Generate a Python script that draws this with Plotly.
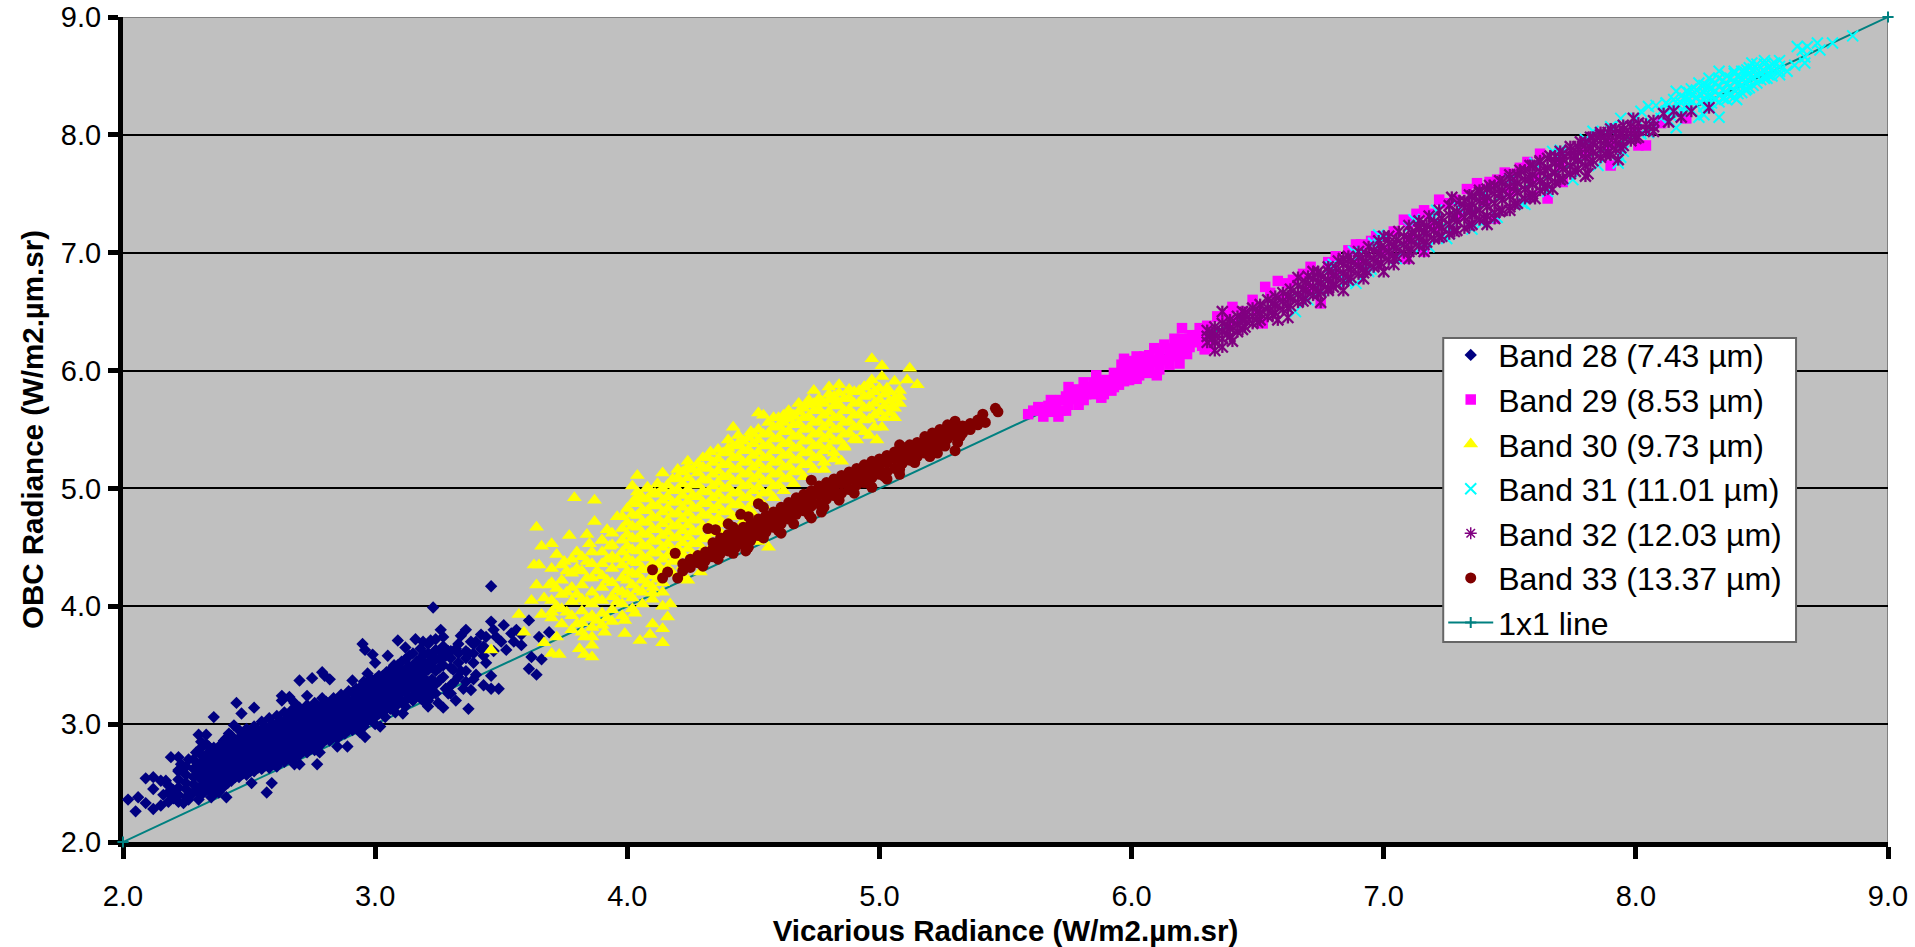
import plotly.graph_objects as go

AXIS_TICKS = [2, 3, 4, 5, 6, 7, 8, 9]
X_TITLE = "Vicarious Radiance (W/m2.µm.sr)"
Y_TITLE = "OBC Radiance (W/m2.µm.sr)"
BAND_NAMES = ["Band 28 (7.43 µm)", "Band 29 (8.53 µm)", "Band 30 (9.73 µm)",
              "Band 31 (11.01 µm)", "Band 32 (12.03 µm)", "Band 33 (13.37 µm)"]
LINE_NAME = "1x1 line"
line_x = [2.0, 9.0]
line_y = [2.0, 9.0]

band28 = [
 (2.02,2.36),(2.06,2.38),(2.05,2.26),(2.09,2.54),(2.09,2.33),(2.12,2.55),(2.12,2.28),(2.12,2.45),(2.15,2.31),(2.15,2.52),
 (2.17,2.52),(2.19,2.72),(2.22,2.72),(2.18,2.34),(2.20,2.37),(2.22,2.61),(2.30,2.91),(2.33,2.91),(2.36,3.06),(2.31,2.85),
 (2.34,2.81),(2.45,3.18),(2.52,3.14),(2.47,3.09),(2.44,2.99),(2.42,2.92),(2.41,2.88),(2.41,2.38),(2.57,2.42),(2.51,2.50),
 (2.59,2.50),(2.77,2.66),(2.70,3.37),(2.75,3.39),(2.79,3.44),(2.82,3.38),(2.80,3.41),(2.63,3.24),(2.63,3.20),(2.66,3.23),
 (2.68,3.18),(2.73,3.24),(2.91,3.37),(2.95,3.68),(2.96,3.63),(2.99,3.59),(3.00,3.52),(3.05,3.58),(3.09,3.71),(3.12,3.65),
 (3.16,3.72),(3.19,3.70),(3.22,3.71),(3.23,3.99),(3.26,3.80),(3.46,4.17),(3.36,3.80),(3.34,3.75),(3.40,3.70),(3.33,3.68),
 (3.44,3.74),(3.46,3.87),(3.47,3.80),(3.51,3.84),(3.54,3.77),(3.52,3.63),(3.56,3.80),(3.58,3.67),(3.61,3.88),(3.62,3.57),
 (3.66,3.55),(3.61,3.47),(3.64,3.42),(3.69,3.78),(3.65,3.74),(3.46,3.41),(3.43,3.33),(3.46,3.30),(3.49,3.30),(3.38,3.29),
 (3.37,3.13),(3.32,3.20),(3.27,3.14),(3.29,3.26),(3.21,3.15),(3.19,3.20),(3.11,3.09),(3.05,3.15),(3.02,2.98),(2.96,2.89),
 (2.89,2.81),(2.85,2.81),(2.78,2.76),(2.70,2.66),(2.68,2.66),(2.61,2.64),
 (2.18,2.42),(2.18,2.48),
 (2.22,2.40),(2.22,2.46),(2.22,2.53),(2.22,2.60),
 (2.25,2.38),(2.25,2.45),(2.25,2.50),(2.25,2.57),(2.25,2.64),
 (2.28,2.42),(2.28,2.49),(2.28,2.55),(2.28,2.62),(2.28,2.70),
 (2.31,2.40),(2.31,2.47),(2.31,2.53),(2.31,2.60),(2.31,2.67),(2.31,2.74),(2.31,2.80),
 (2.34,2.44),(2.34,2.51),(2.34,2.57),(2.34,2.63),(2.34,2.70),(2.34,2.76),
 (2.37,2.43),(2.37,2.50),(2.37,2.56),(2.37,2.62),(2.37,2.69),(2.37,2.75),
 (2.40,2.47),(2.40,2.53),(2.40,2.60),(2.40,2.66),(2.40,2.72),(2.40,2.79),(2.40,2.86),
 (2.43,2.52),(2.43,2.58),(2.43,2.64),(2.43,2.70),(2.43,2.77),(2.43,2.83),(2.43,2.90),
 (2.46,2.55),(2.46,2.62),(2.46,2.68),(2.46,2.75),(2.46,2.81),(2.46,2.88),(2.46,2.95),
 (2.49,2.57),(2.49,2.63),(2.49,2.70),(2.49,2.76),(2.49,2.83),(2.49,2.89),(2.49,2.96),
 (2.52,2.60),(2.52,2.66),(2.52,2.73),(2.52,2.79),(2.52,2.85),(2.52,2.92),(2.52,2.98),
 (2.55,2.62),(2.55,2.69),(2.55,2.75),(2.55,2.82),(2.55,2.88),(2.55,2.94),(2.55,3.02),
 (2.58,2.63),(2.58,2.70),(2.58,2.77),(2.58,2.83),(2.58,2.90),(2.58,2.96),(2.58,3.05),
 (2.61,2.66),(2.61,2.72),(2.61,2.79),(2.61,2.85),(2.61,2.92),(2.61,2.99),(2.61,3.07),
 (2.64,2.68),(2.64,2.75),(2.64,2.81),(2.64,2.88),(2.64,2.94),(2.64,3.00),(2.64,3.10),
 (2.67,2.70),(2.67,2.77),(2.67,2.83),(2.67,2.90),(2.67,2.96),(2.67,3.03),(2.67,3.12),
 (2.70,2.74),(2.70,2.80),(2.70,2.86),(2.70,2.93),(2.70,2.99),(2.70,3.06),(2.70,3.14),
 (2.73,2.76),(2.73,2.82),(2.73,2.89),(2.73,2.95),(2.73,3.02),(2.73,3.08),(2.73,3.16),
 (2.76,2.78),(2.76,2.85),(2.76,2.91),(2.76,2.98),(2.76,3.04),(2.76,3.11),(2.76,3.18),
 (2.79,2.84),(2.79,2.90),(2.79,2.96),(2.79,3.03),(2.79,3.09),(2.79,3.16),(2.79,3.22),
 (2.82,2.86),(2.82,2.93),(2.82,2.99),(2.82,3.06),(2.82,3.12),(2.82,3.18),
 (2.85,2.88),(2.85,2.95),(2.85,3.01),(2.85,3.08),(2.85,3.14),(2.85,3.21),
 (2.88,2.92),(2.88,2.98),(2.88,3.05),(2.88,3.11),(2.88,3.17),(2.88,3.24),
 (2.91,2.95),(2.91,3.01),(2.91,3.08),(2.91,3.14),(2.91,3.20),(2.91,3.27),
 (2.94,2.93),(2.94,3.00),(2.94,3.06),(2.94,3.12),(2.94,3.19),(2.94,3.25),(2.94,3.31),
 (2.97,3.03),(2.97,3.09),(2.97,3.16),(2.97,3.22),(2.97,3.29),(2.97,3.35),(2.97,3.43),
 (3.00,3.06),(3.00,3.12),(3.00,3.18),(3.00,3.25),(3.00,3.31),(3.00,3.38),
 (3.03,3.10),(3.03,3.16),(3.03,3.22),(3.03,3.29),(3.03,3.35),(3.03,3.41),
 (3.06,3.13),(3.06,3.20),(3.06,3.27),(3.06,3.33),(3.06,3.39),(3.06,3.46),
 (3.09,3.17),(3.09,3.24),(3.09,3.30),(3.09,3.36),(3.09,3.43),(3.09,3.50),
 (3.12,3.20),(3.12,3.28),(3.12,3.34),(3.12,3.40),(3.12,3.46),(3.12,3.55),
 (3.15,3.24),(3.15,3.31),(3.15,3.37),(3.15,3.44),(3.15,3.50),(3.15,3.60),
 (3.18,3.22),(3.18,3.30),(3.18,3.36),(3.18,3.42),(3.18,3.49),(3.18,3.56),(3.18,3.64),
 (3.21,3.20),(3.21,3.28),(3.21,3.35),(3.21,3.46),(3.21,3.52),(3.21,3.60),(3.21,3.68),
 (3.24,3.26),(3.24,3.34),(3.24,3.45),(3.24,3.55),(3.24,3.63),
 (3.27,3.40),(3.27,3.50),(3.27,3.58),(3.27,3.66),
 (3.30,3.33),(3.30,3.48),(3.30,3.56),(3.30,3.62),
 (3.33,3.40),(3.33,3.52),(3.33,3.60),
 (3.36,3.45),(3.36,3.56),(3.36,3.62),
 (3.39,3.52),(3.39,3.60),(3.39,3.68),
 (3.43,3.58),(3.43,3.66),
 (2.295,2.45),(2.295,2.58),(2.295,2.65),
 (2.325,2.43),(2.325,2.50),(2.325,2.56),(2.325,2.64),(2.325,2.72),
 (2.355,2.47),(2.355,2.54),(2.355,2.60),(2.355,2.66),(2.355,2.73),
 (2.385,2.46),(2.385,2.53),(2.385,2.59),(2.385,2.65),(2.385,2.72),(2.385,2.78),
 (2.415,2.50),(2.415,2.56),(2.415,2.63),(2.415,2.69),(2.415,2.75),(2.415,2.82),
 (2.445,2.55),(2.445,2.61),(2.445,2.67),(2.445,2.73),(2.445,2.80),(2.445,2.86),
 (2.475,2.58),(2.475,2.65),(2.475,2.71),(2.475,2.78),(2.475,2.84),(2.475,2.91),
 (2.505,2.60),(2.505,2.67),(2.505,2.73),(2.505,2.80),(2.505,2.86),(2.505,2.93),
 (2.535,2.63),(2.535,2.69),(2.535,2.76),(2.535,2.82),(2.535,2.89),(2.535,2.95),
 (2.565,2.65),(2.565,2.72),(2.565,2.78),(2.565,2.85),(2.565,2.91),(2.565,2.98),
 (2.595,2.66),(2.595,2.73),(2.595,2.80),(2.595,2.86),(2.595,2.93),(2.595,3.00),
 (2.625,2.69),(2.625,2.75),(2.625,2.82),(2.625,2.88),(2.625,2.95),(2.625,3.03),
 (2.655,2.71),(2.655,2.78),(2.655,2.84),(2.655,2.91),(2.655,2.97),(2.655,3.06),
 (2.685,2.73),(2.685,2.80),(2.685,2.86),(2.685,2.93),(2.685,2.99),(2.685,3.08),
 (2.715,2.77),(2.715,2.83),(2.715,2.89),(2.715,2.96),(2.715,3.02),(2.715,3.10),
 (2.745,2.79),(2.745,2.85),(2.745,2.92),(2.745,2.98),(2.745,3.05),(2.745,3.13),
 (2.775,2.81),(2.775,2.88),(2.775,2.94),(2.775,3.01),(2.775,3.07),(2.775,3.15),
 (2.805,2.87),(2.805,2.93),(2.805,2.99),(2.805,3.06),(2.805,3.12),(2.805,3.19),
 (2.835,2.89),(2.835,2.96),(2.835,3.02),(2.835,3.09),(2.835,3.15),(2.835,3.22),
 (2.865,2.91),(2.865,2.98),(2.865,3.04),(2.865,3.11),(2.865,3.17),(2.865,3.25),
 (2.895,2.95),(2.895,3.01),(2.895,3.08),(2.895,3.14),(2.895,3.20),(2.895,3.28),
 (2.925,2.98),(2.925,3.04),(2.925,3.11),(2.925,3.17),(2.925,3.23),(2.925,3.30),
 (2.955,2.98),(2.955,3.03),(2.955,3.09),(2.955,3.15),(2.955,3.22),(2.955,3.28),(2.955,3.36),
 (2.985,3.06),(2.985,3.12),(2.985,3.19),(2.985,3.25),(2.985,3.32),(2.985,3.38),
 (3.015,3.09),(3.015,3.15),(3.015,3.21),(3.015,3.28),(3.015,3.34),(3.015,3.41),
 (3.045,3.13),(3.045,3.19),(3.045,3.25),(3.045,3.32),(3.045,3.38),(3.045,3.44),
 (3.075,3.16),(3.075,3.23),(3.075,3.30),(3.075,3.36),(3.075,3.42),(3.075,3.50),
 (3.105,3.20),(3.105,3.27),(3.105,3.33),(3.105,3.39),(3.105,3.46),(3.105,3.53),
 (3.135,3.23),(3.135,3.31),(3.135,3.37),(3.135,3.43),(3.135,3.49),(3.135,3.58),
 (3.165,3.27),(3.165,3.34),(3.165,3.40),(3.165,3.47),(3.165,3.53),
 (3.195,3.25),(3.195,3.33),(3.195,3.39),(3.195,3.45),(3.195,3.52),(3.195,3.59),
 (3.225,3.31),(3.225,3.38),(3.225,3.49),(3.225,3.58),
 (3.255,3.37),(3.255,3.48),(3.255,3.55),(3.255,3.62),
 (3.28,3.58),(3.31,3.35),(3.34,3.45),(3.37,3.60),(3.40,3.42),(3.42,3.64),(3.44,3.52),(3.47,3.62),(3.50,3.70),(3.35,3.30),
 (3.30,3.26),(3.25,3.18),(3.22,3.24),(3.28,3.30),(3.24,3.72),(3.27,3.74),(3.29,3.62),(3.32,3.64),(3.38,3.70),(3.42,3.76),
 (3.55,3.70),(3.58,3.76),(3.48,3.74),(3.31,3.46),(3.39,3.38),(3.36,3.36),(3.15,3.20),(3.12,3.15),(3.08,3.10),(3.04,3.06),
 (3.00,3.00),(2.23,2.66),(2.26,2.70),(2.29,2.76),(2.33,2.83),(2.36,2.80),(2.39,2.83),(2.27,2.40),(2.35,2.38),(2.30,2.36),
 (2.38,2.42),(2.22,2.34),(2.16,2.40),(2.20,2.44),(2.26,2.36),(2.24,2.33),
]

band29 = [
 (5.59,5.63),(5.63,5.69),(5.65,5.61),(5.68,5.75),(5.68,5.65),(5.71,5.61),(5.72,5.75),(5.75,5.86),(5.75,5.71),(5.79,5.71),
 (5.78,5.84),(5.81,5.90),(5.81,5.75),(5.86,5.96),(5.88,5.77),(5.86,5.85),(5.89,5.86),(5.93,5.98),(5.93,5.86),(5.97,6.10),
 (5.97,6.00),(5.97,5.91),(6.02,6.12),(6.02,5.93),(6.01,6.02),(6.05,6.12),(6.05,6.00),(6.09,6.19),(6.10,5.96),(6.09,6.09),
 (6.13,6.22),(6.13,6.09),(6.17,6.27),(6.17,6.15),(6.19,6.06),(6.20,6.36),(6.21,6.22),(6.22,6.14),(6.24,6.30),(6.27,6.36),
 (6.29,6.18),(6.28,6.25),(6.34,6.46),(6.40,6.54),(6.48,6.60),(6.53,6.71),(6.58,6.76),(6.52,6.40),(6.44,6.50),(6.64,6.77),
 (6.71,6.88),(6.75,6.57),(6.81,6.97),(6.89,7.07),(6.91,7.07),(6.97,7.14),(7.09,6.95),(7.16,7.01),(7.22,7.45),(7.13,7.33),
 (7.08,7.28),(7.18,7.33),(7.37,7.59),(7.28,7.45),(7.44,7.29),(7.51,7.67),(7.54,7.72),(7.57,7.77),(7.62,7.84),(7.65,7.46),
 (7.59,7.48),(7.45,7.62),(7.90,7.74),(7.71,7.60),(8.01,7.91),(8.04,7.91),(8.20,8.14),
 (6.40,6.42),(6.50,6.52),(6.60,6.62),(6.70,6.70),(6.80,6.84),(6.90,6.92),(7.00,7.02),(7.10,7.12),(7.20,7.22),(7.30,7.32),
 (7.40,7.44),(7.50,7.52),(7.60,7.64),(7.70,7.74),(7.80,7.84),(7.90,7.92),(8.00,8.04),(8.10,8.10),
 (5.61,5.66),(5.65,5.67),(5.67,5.70),(5.70,5.68),(5.72,5.66),(5.74,5.78),(5.74,5.66),(5.76,5.76),(5.77,5.81),(5.79,5.76),
 (5.80,5.82),(5.82,5.80),(5.83,5.86),(5.85,5.80),(5.85,5.90),(5.87,5.83),(5.87,5.90),(5.89,5.80),(5.90,5.92),(5.92,5.90),
 (5.92,5.83),(5.94,5.93),(5.96,5.95),(5.96,6.05),(5.95,5.88),(5.99,6.08),(5.99,5.98),(5.99,5.92),(6.01,6.08),(6.03,6.02),
 (6.03,5.96),(6.04,6.07),(6.07,6.13),(6.07,6.05),(6.07,5.98),(6.11,6.15),(6.11,6.07),(6.11,6.01),(6.15,6.19),(6.15,6.13),
 (6.15,6.05),(6.18,6.23),(6.18,6.12),(6.20,6.27),(6.20,6.18),(6.23,6.20),(6.23,6.27),(6.26,6.24),(6.26,6.30),(6.28,6.21),
 (6.30,6.33),(6.31,6.20),
 (6.30,6.38),(6.38,6.47),(6.55,6.66),(6.62,6.74),(6.68,6.82),(6.78,6.92),(6.86,7.02),(6.95,7.10),(7.04,7.18),(7.10,7.26),
 (7.16,7.36),(7.25,7.42),(7.33,7.54),(7.42,7.60),(7.48,7.68),
]

band30 = [
 (4.97,6.10),(5.01,6.04),(5.12,6.02),(5.11,5.92),(5.15,5.88),(5.01,5.95),(4.97,5.92),(4.94,5.86),(5.06,5.91),(5.03,5.85),
 (5.08,5.83),(4.88,5.83),(4.84,5.88),(4.80,5.86),(4.74,5.83),(4.68,5.72),(4.72,5.75),(4.77,5.74),(4.82,5.75),(5.06,5.60),
 (5.05,5.69),(5.01,5.52),(4.96,5.45),(4.99,5.41),(4.91,5.41),(4.86,5.35),(4.82,5.25),(4.85,5.23),(4.78,5.16),
 (4.52,5.64),(4.54,5.62),(4.58,5.60),(4.62,5.62),(4.65,5.61),(4.42,5.52),(4.49,5.48),(4.44,5.38),(4.40,5.34),(4.33,5.31),
 (4.30,5.26),(4.24,5.23),(4.20,5.16),(4.14,5.13),(4.04,5.11),(4.02,5.02),(4.08,5.01),(4.04,4.93),(4.11,4.96),(3.96,4.76),
 (3.79,4.92),(3.87,4.90),(3.87,4.72),(3.92,4.65),(3.77,4.60),(3.64,4.67),(3.84,4.61),(3.90,4.56),(3.66,4.51),(3.70,4.53),
 (3.85,4.53),(3.93,4.51),(3.72,4.44),(3.80,4.46),(3.63,4.35),(3.65,4.35),(3.75,4.38),(3.64,4.18),(3.69,4.18),(3.62,4.05),
 (3.67,4.07),(3.57,3.93),(3.59,3.78),(3.66,3.93),(3.70,3.90),(3.67,3.69),(3.46,3.63),(3.72,3.74),(3.70,3.60),(3.73,3.59),
 (3.81,3.64),(3.83,3.59),(3.86,3.57),(3.83,3.74),(3.86,3.74),(3.86,3.67),(3.91,3.78),(3.99,3.77),(4.05,3.71),(4.09,3.76),
 (4.14,3.69),(4.14,3.81),(4.10,3.85),(4.16,3.91),(4.14,4.00),(4.17,4.02),(4.14,4.12),(4.10,4.11),(4.03,3.94),(3.99,3.88),
 (4.56,4.50),(4.52,4.55),(4.24,4.22),(4.29,4.29),
 (3.70,3.95),(3.70,4.05),(3.70,4.20),(3.70,4.32),
 (3.74,3.85),(3.74,3.98),(3.74,4.10),(3.74,4.22),(3.74,4.35),
 (3.78,3.80),(3.78,3.92),(3.78,4.04),(3.78,4.16),(3.78,4.28),(3.78,4.40),
 (3.82,3.78),(3.82,3.86),(3.82,3.96),(3.82,4.06),(3.82,4.18),(3.82,4.30),(3.82,4.42),
 (3.86,3.82),(3.86,3.92),(3.86,4.02),(3.86,4.12),(3.86,4.24),(3.86,4.36),(3.86,4.46),
 (3.90,3.84),(3.90,3.94),(3.90,4.05),(3.90,4.16),(3.90,4.26),(3.90,4.36),(3.90,4.46),(3.90,4.56),
 (3.94,3.87),(3.94,3.97),(3.94,4.08),(3.94,4.20),(3.94,4.32),(3.94,4.42),(3.94,4.52),(3.94,4.62),
 (3.98,3.92),(3.98,4.02),(3.98,4.12),(3.98,4.24),(3.98,4.35),(3.98,4.46),(3.98,4.56),(3.98,4.66),(3.98,4.76),
 (4.02,3.98),(4.02,4.07),(4.02,4.18),(4.02,4.28),(4.02,4.38),(4.02,4.48),(4.02,4.58),(4.02,4.68),(4.02,4.78),(4.02,4.88),
 (4.06,4.02),(4.06,4.12),(4.06,4.22),(4.06,4.32),(4.06,4.42),(4.06,4.52),(4.06,4.62),(4.06,4.72),(4.06,4.82),(4.06,4.92),
 (4.10,4.06),(4.10,4.16),(4.10,4.26),(4.10,4.36),(4.10,4.46),(4.10,4.56),(4.10,4.66),(4.10,4.76),(4.10,4.86),(4.10,4.96),
 (4.14,4.20),(4.14,4.30),(4.14,4.40),(4.14,4.50),(4.14,4.60),(4.14,4.70),(4.14,4.80),(4.14,4.90),(4.14,5.00),
 (4.18,4.28),(4.18,4.38),(4.18,4.48),(4.18,4.58),(4.18,4.68),(4.18,4.78),(4.18,4.88),(4.18,4.98),(4.18,5.08),
 (4.22,4.24),(4.22,4.34),(4.22,4.44),(4.22,4.54),(4.22,4.64),(4.22,4.74),(4.22,4.84),(4.22,4.94),(4.22,5.04),(4.22,5.14),
 (4.26,4.44),(4.26,4.54),(4.26,4.64),(4.26,4.74),(4.26,4.84),(4.26,4.94),(4.26,5.04),(4.26,5.16),
 (4.30,4.48),(4.30,4.58),(4.30,4.68),(4.30,4.78),(4.30,4.88),(4.30,4.98),(4.30,5.08),(4.30,5.18),
 (4.34,4.52),(4.34,4.62),(4.34,4.72),(4.34,4.82),(4.34,4.92),(4.34,5.02),(4.34,5.12),(4.34,5.22),
 (4.38,4.60),(4.38,4.70),(4.38,4.80),(4.38,4.90),(4.38,5.00),(4.38,5.10),(4.38,5.20),(4.38,5.30),
 (4.42,4.66),(4.42,4.76),(4.42,4.86),(4.42,4.96),(4.42,5.06),(4.42,5.16),(4.42,5.26),(4.42,5.36),
 (4.46,4.72),(4.46,4.82),(4.46,4.92),(4.46,5.02),(4.46,5.12),(4.46,5.22),(4.46,5.32),(4.46,5.40),
 (4.50,4.78),(4.50,4.88),(4.50,4.98),(4.50,5.08),(4.50,5.18),(4.50,5.28),(4.50,5.38),(4.50,5.46),
 (4.54,4.72),(4.54,4.86),(4.54,4.96),(4.54,5.06),(4.54,5.16),(4.54,5.26),(4.54,5.36),(4.54,5.46),
 (4.58,4.92),(4.58,5.02),(4.58,5.12),(4.58,5.22),(4.58,5.32),(4.58,5.42),(4.58,5.52),
 (4.62,4.98),(4.62,5.08),(4.62,5.18),(4.62,5.28),(4.62,5.38),(4.62,5.48),(4.62,5.56),
 (4.66,5.04),(4.66,5.14),(4.66,5.24),(4.66,5.34),(4.66,5.44),(4.66,5.54),(4.66,5.62),
 (4.70,5.10),(4.70,5.20),(4.70,5.30),(4.70,5.40),(4.70,5.50),(4.70,5.60),(4.70,5.68),
 (4.74,5.16),(4.74,5.26),(4.74,5.36),(4.74,5.46),(4.74,5.56),(4.74,5.66),(4.74,5.72),
 (4.78,5.22),(4.78,5.32),(4.78,5.42),(4.78,5.52),(4.78,5.62),(4.78,5.72),
 (4.82,5.30),(4.82,5.40),(4.82,5.50),(4.82,5.60),(4.82,5.70),(4.82,5.78),
 (4.86,5.36),(4.86,5.46),(4.86,5.56),(4.86,5.66),(4.86,5.76),
 (4.90,5.42),(4.90,5.52),(4.90,5.62),(4.90,5.72),(4.90,5.82),
 (4.94,5.48),(4.94,5.58),(4.94,5.68),(4.94,5.78),(4.94,5.86),
 (4.98,5.52),(4.98,5.62),(4.98,5.72),(4.98,5.82),
 (5.02,5.60),(5.02,5.70),(5.02,5.80),
 (5.06,5.68),(5.06,5.76),
 (4.00,4.10),(4.00,4.22),(4.00,4.30),(4.00,4.41),(4.00,4.51),(4.00,4.61),(4.00,4.71),(4.00,4.83),
 (4.04,4.14),(4.04,4.27),(4.04,4.37),(4.04,4.47),(4.04,4.57),(4.04,4.67),(4.04,4.77),(4.04,4.87),(4.04,4.97),
 (4.08,4.19),(4.08,4.31),(4.08,4.41),(4.08,4.51),(4.08,4.61),(4.08,4.71),(4.08,4.81),(4.08,4.91),(4.08,5.00),
 (4.12,4.23),(4.12,4.35),(4.12,4.45),(4.12,4.55),(4.12,4.65),(4.12,4.75),(4.12,4.85),(4.12,4.95),(4.12,5.04),
 (4.16,4.33),(4.16,4.43),(4.16,4.53),(4.16,4.63),(4.16,4.73),(4.16,4.83),(4.16,4.93),(4.16,5.03),
 (4.20,4.39),(4.20,4.49),(4.20,4.59),(4.20,4.69),(4.20,4.79),(4.20,4.89),(4.20,4.99),(4.20,5.09),
 (4.24,4.49),(4.24,4.59),(4.24,4.69),(4.24,4.79),(4.24,4.89),(4.24,4.99),(4.24,5.09),(4.24,5.18),
 (4.28,4.53),(4.28,4.63),(4.28,4.73),(4.28,4.83),(4.28,4.93),(4.28,5.03),(4.28,5.13),(4.28,5.21),
 (4.32,4.57),(4.32,4.67),(4.32,4.77),(4.32,4.87),(4.32,4.97),(4.32,5.07),(4.32,5.17),(4.32,5.26),
 (4.36,4.65),(4.36,4.75),(4.36,4.85),(4.36,4.95),(4.36,5.05),(4.36,5.15),(4.36,5.25),(4.36,5.33),
 (4.40,4.71),(4.40,4.81),(4.40,4.91),(4.40,5.01),(4.40,5.11),(4.40,5.21),(4.40,5.31),(4.40,5.41),
 (4.44,4.77),(4.44,4.87),(4.44,4.97),(4.44,5.07),(4.44,5.17),(4.44,5.27),(4.44,5.37),(4.44,5.45),
 (4.48,4.83),(4.48,4.93),(4.48,5.03),(4.48,5.13),(4.48,5.23),(4.48,5.33),(4.48,5.43),
 (4.52,4.91),(4.52,5.01),(4.52,5.11),(4.52,5.21),(4.52,5.31),(4.52,5.41),(4.52,5.50),
 (4.56,4.97),(4.56,5.07),(4.56,5.17),(4.56,5.27),(4.56,5.37),(4.56,5.47),(4.56,5.56),
 (4.60,5.03),(4.60,5.13),(4.60,5.23),(4.60,5.33),(4.60,5.43),(4.60,5.53),(4.60,5.60),
 (4.64,5.09),(4.64,5.19),(4.64,5.29),(4.64,5.39),(4.64,5.49),(4.64,5.59),(4.64,5.66),
 (4.68,5.15),(4.68,5.25),(4.68,5.35),(4.68,5.45),(4.68,5.55),(4.68,5.65),
 (4.72,5.21),(4.72,5.31),(4.72,5.41),(4.72,5.51),(4.72,5.61),(4.72,5.71),
 (4.76,5.27),(4.76,5.37),(4.76,5.47),(4.76,5.57),(4.76,5.67),(4.76,5.76),
 (4.80,5.35),(4.80,5.45),(4.80,5.55),(4.80,5.65),(4.80,5.75),(4.80,5.80),
 (4.84,5.41),(4.84,5.51),(4.84,5.61),(4.84,5.71),(4.84,5.81),
 (4.88,5.47),(4.88,5.57),(4.88,5.67),(4.88,5.77),(4.88,5.84),
 (4.92,5.53),(4.92,5.63),(4.92,5.73),(4.92,5.83),
 (4.96,5.59),(4.96,5.69),(4.96,5.79),(4.96,5.88),
 (5.00,5.65),(5.00,5.75),(5.00,5.85),
 (5.04,5.64),(5.04,5.74),(5.04,5.82),
 (5.08,5.72),(5.08,5.78),
 (3.72,4.15),(3.76,4.30),(3.80,4.10),(3.84,4.24),(3.88,4.06),(3.92,4.22),(3.96,4.40),(3.96,4.14),(3.88,4.30),(3.92,4.40),
 (3.84,4.38),(3.80,4.32),(3.76,4.12),(3.72,4.00),(3.88,3.88),(3.80,3.85),(3.76,3.95),(3.84,3.90),(3.92,3.90),(3.96,4.04),
 (3.84,4.04),
]

band31 = [
 (8.86,8.84),(8.78,8.78),(8.73,8.72),(8.64,8.75),(8.72,8.78),(8.68,8.75),(8.66,8.72),(8.67,8.61),(8.67,8.66),(8.60,8.54),
 (8.63,8.59),(8.57,8.63),(8.46,8.61),(8.51,8.63),(8.55,8.61),(8.57,8.51),(8.52,8.48),(8.44,8.39),(8.44,8.55),(8.39,8.54),
 (8.33,8.54),(8.29,8.48),(8.25,8.44),(8.22,8.39),(8.16,8.37),(8.20,8.37),(8.33,8.15),(8.27,8.17),(8.25,8.15),(8.40,8.30),
 (8.35,8.31),(8.29,8.25),(8.16,8.06),(8.05,8.24),(8.02,8.20),(8.08,8.25),(8.12,8.27),(7.94,8.14),(7.90,8.07),(7.83,8.03),
 (7.94,7.81),(7.93,7.76),(7.70,7.87),(7.67,7.86),(7.56,7.41),(7.39,7.25),(7.26,7.20),(7.12,7.28),(7.21,7.36),(8.02,8.01),
 (6.70,6.60),(6.65,6.50),(6.94,6.84),(6.89,6.74),(7.18,7.05),(6.96,7.08),(6.79,6.88),(6.88,7.01),(7.26,7.16),(6.98,7.15),
 (8.12,8.20),(8.12,8.27),
 (8.15,8.22),(8.15,8.30),
 (8.18,8.20),(8.18,8.27),(8.18,8.33),
 (8.21,8.24),(8.21,8.30),(8.21,8.36),
 (8.24,8.25),(8.24,8.32),(8.24,8.38),
 (8.27,8.24),(8.27,8.30),(8.27,8.36),(8.27,8.42),
 (8.30,8.27),(8.30,8.33),(8.30,8.39),(8.30,8.46),
 (8.33,8.28),(8.33,8.34),(8.33,8.41),(8.33,8.48),
 (8.36,8.30),(8.36,8.36),(8.36,8.43),(8.36,8.50),
 (8.39,8.32),(8.39,8.38),(8.39,8.45),(8.39,8.52),
 (8.42,8.36),(8.42,8.42),(8.42,8.48),(8.42,8.54),
 (8.45,8.40),(8.45,8.46),(8.45,8.52),(8.45,8.57),
 (8.48,8.44),(8.48,8.50),(8.48,8.56),(8.48,8.60),
 (8.51,8.48),(8.51,8.54),(8.51,8.60),
 (8.54,8.50),(8.54,8.56),(8.54,8.60),
 (8.57,8.54),(8.57,8.58),
 (6.75,6.68),(6.80,6.90),(6.85,6.76),(6.90,6.98),(6.95,6.86),(7.00,7.12),(7.05,6.95),(7.10,7.22),(7.15,7.05),(7.20,7.30),
 (7.25,7.12),(7.30,7.38),(7.35,7.20),(7.40,7.50),(7.45,7.30),(7.50,7.62),(7.55,7.42),(7.60,7.76),(7.65,7.52),(7.70,7.84),
 (7.75,7.62),(7.80,7.96),(7.85,7.74),(7.90,8.04),(7.95,7.86),(8.00,8.14),(8.05,8.02),(8.10,8.20),
 (8.135,8.22),(8.165,8.26),(8.195,8.24),(8.195,8.31),(8.225,8.28),(8.225,8.34),(8.255,8.28),(8.255,8.35),(8.285,8.27),(8.285,8.33),
 (8.285,8.41),(8.315,8.30),(8.315,8.37),(8.315,8.44),(8.345,8.31),(8.345,8.38),(8.345,8.46),(8.375,8.33),(8.375,8.41),(8.375,8.48),
 (8.405,8.35),(8.405,8.43),(8.405,8.50),(8.435,8.38),(8.435,8.45),(8.435,8.53),(8.465,8.42),(8.465,8.49),(8.465,8.56),(8.495,8.47),
 (8.495,8.53),(8.525,8.51),(8.525,8.57),(8.10,8.14),(8.06,8.10),(8.14,8.16),
]

band32 = [
 (6.33,6.17),(6.36,6.20),(6.40,6.25),(6.36,6.50),(6.44,6.50),(6.62,6.45),(6.58,6.43),(6.66,6.79),(6.72,6.84),(6.75,6.58),
 (6.84,6.68),(6.78,6.68),(7.00,6.84),(7.04,6.90),(7.16,7.01),(7.10,6.95),(7.00,7.14),(6.84,6.95),(6.92,6.78),
 (7.27,7.47),(7.14,7.22),(7.44,7.29),(7.41,7.24),(7.36,7.33),(7.50,7.36),(7.60,7.46),(7.67,7.54),(7.80,7.65),(7.81,7.67),
 (7.90,7.83),(7.93,7.79),(7.99,8.14),(8.11,8.18),(8.15,8.20),(8.18,8.15),(8.22,8.20),(8.29,8.23),(8.13,8.11),(8.07,8.03),(8.00,7.97),
 (6.30,6.24),(6.30,6.29),(6.30,6.34),
 (6.33,6.24),(6.33,6.30),(6.33,6.37),
 (6.36,6.27),(6.36,6.33),(6.36,6.40),
 (6.39,6.29),(6.39,6.36),(6.39,6.43),
 (6.42,6.33),(6.42,6.39),(6.42,6.46),
 (6.45,6.37),(6.45,6.43),(6.45,6.49),
 (6.48,6.40),(6.48,6.46),(6.48,6.53),
 (6.51,6.43),(6.51,6.49),(6.51,6.56),
 (6.54,6.46),(6.54,6.53),(6.54,6.60),
 (6.57,6.49),(6.57,6.56),(6.57,6.63),
 (6.60,6.52),(6.60,6.59),(6.60,6.66),
 (6.63,6.55),(6.63,6.62),(6.63,6.69),
 (6.66,6.58),(6.66,6.65),(6.66,6.72),
 (6.69,6.61),(6.69,6.68),(6.69,6.75),
 (6.72,6.64),(6.72,6.71),(6.72,6.78),
 (6.75,6.67),(6.75,6.74),(6.75,6.81),
 (6.78,6.70),(6.78,6.77),(6.78,6.84),
 (6.81,6.73),(6.81,6.80),(6.81,6.87),
 (6.84,6.76),(6.84,6.83),(6.84,6.90),
 (6.87,6.79),(6.87,6.86),(6.87,6.93),
 (6.90,6.82),(6.90,6.89),(6.90,6.96),
 (6.93,6.85),(6.93,6.92),(6.93,6.99),
 (6.96,6.88),(6.96,6.95),(6.96,7.02),
 (6.99,6.91),(6.99,6.98),(6.99,7.05),
 (7.02,6.94),(7.02,7.01),(7.02,7.08),
 (7.05,6.97),(7.05,7.04),(7.05,7.11),
 (7.08,7.00),(7.08,7.07),(7.08,7.14),
 (7.11,7.03),(7.11,7.10),(7.11,7.17),
 (7.14,7.06),(7.14,7.13),(7.14,7.20),
 (7.17,7.09),(7.17,7.16),(7.17,7.23),
 (7.20,7.12),(7.20,7.19),(7.20,7.26),
 (7.23,7.14),(7.23,7.21),(7.23,7.29),
 (7.26,7.16),(7.26,7.24),(7.26,7.32),
 (7.29,7.19),(7.29,7.27),(7.29,7.35),
 (7.32,7.21),(7.32,7.30),(7.32,7.38),(7.32,7.44),
 (7.35,7.24),(7.35,7.33),(7.35,7.41),(7.35,7.48),
 (7.38,7.28),(7.38,7.36),(7.38,7.44),(7.38,7.51),
 (7.41,7.31),(7.41,7.39),(7.41,7.47),(7.41,7.54),
 (7.44,7.34),(7.44,7.42),(7.44,7.50),(7.44,7.57),
 (7.47,7.36),(7.47,7.45),(7.47,7.53),(7.47,7.60),
 (7.50,7.39),(7.50,7.48),(7.50,7.56),(7.50,7.63),
 (7.53,7.42),(7.53,7.51),(7.53,7.59),(7.53,7.66),
 (7.56,7.46),(7.56,7.54),(7.56,7.62),(7.56,7.70),
 (7.59,7.50),(7.59,7.58),(7.59,7.66),(7.59,7.74),
 (7.62,7.53),(7.62,7.61),(7.62,7.69),(7.62,7.77),
 (7.65,7.57),(7.65,7.64),(7.65,7.72),(7.65,7.80),
 (7.68,7.60),(7.68,7.68),(7.68,7.76),(7.68,7.82),
 (7.71,7.63),(7.71,7.71),(7.71,7.79),(7.71,7.84),
 (7.74,7.67),(7.74,7.74),(7.74,7.82),(7.74,7.87),
 (7.77,7.71),(7.77,7.78),(7.77,7.85),(7.77,7.90),
 (7.80,7.74),(7.80,7.81),(7.80,7.88),(7.80,7.94),
 (7.83,7.78),(7.83,7.85),(7.83,7.92),(7.83,7.98),
 (7.86,7.81),(7.86,7.88),(7.86,7.95),(7.86,8.00),
 (7.89,7.85),(7.89,7.92),(7.89,7.98),(7.89,8.02),
 (7.92,7.88),(7.92,7.95),(7.92,8.01),(7.92,8.05),
 (7.95,7.91),(7.95,7.98),(7.95,8.04),(7.95,8.08),
 (7.98,7.95),(7.98,8.01),(7.98,8.07),
 (8.01,7.98),(8.01,8.04),(8.01,8.10),
 (8.04,8.04),(8.04,8.09),(8.07,8.07),(8.07,8.12),
 (6.32,6.27),(6.32,6.32),(6.38,6.31),(6.38,6.38),(6.44,6.35),(6.44,6.44),(6.50,6.41),(6.50,6.50),(6.56,6.47),(6.56,6.57),
 (6.62,6.53),(6.62,6.63),(6.68,6.59),(6.68,6.69),(6.74,6.65),(6.74,6.75),(6.80,6.71),(6.80,6.81),(6.86,6.77),(6.86,6.87),
 (6.92,6.83),(6.92,6.93),(6.98,6.89),(6.98,7.00),(7.04,6.95),(7.04,7.06),(7.10,7.01),(7.10,7.12),(7.16,7.07),(7.16,7.18),
 (7.22,7.13),(7.22,7.24),(7.28,7.18),(7.28,7.31),(7.34,7.23),(7.34,7.37),(7.40,7.29),(7.40,7.44),(7.46,7.35),(7.46,7.50),
 (7.52,7.41),(7.52,7.56),(7.58,7.47),(7.58,7.63),(7.64,7.55),(7.64,7.70),(7.70,7.62),(7.70,7.76),(7.76,7.69),(7.76,7.82),
 (7.82,7.76),(7.82,7.89),(7.88,7.83),(7.88,7.95),(7.94,7.89),(7.94,8.01),
 (6.70,6.80),(6.74,6.84),(6.78,6.88),(6.82,6.93),(6.86,6.97),(6.90,7.01),(6.94,7.05),(6.98,7.10),(7.02,7.14),(7.06,7.18),
 (7.10,7.23),(7.14,7.27),(7.18,7.31),(7.22,7.36),(7.26,7.40),(7.30,7.44),(7.34,7.49),(7.38,7.53),(7.42,7.57),(7.46,7.61),
 (7.50,7.66),(7.54,7.70),(7.58,7.74),(7.62,7.78),(7.66,7.82),(7.70,7.86),(7.74,7.90),(7.78,7.94),(7.82,7.98),(7.86,8.02),
 (7.90,8.05),
]

band33 = [
 (4.10,4.31),(4.14,4.24),(4.16,4.29),(4.20,4.24),(4.19,4.45),(4.32,4.66),(4.35,4.65),(4.40,4.70),(4.42,4.67),(4.45,4.78),
 (4.48,4.76),(4.52,4.87),(4.54,4.84),(4.73,5.07),(5.46,5.68),(5.47,5.65),(5.41,5.63),(5.42,5.56),(5.30,5.32),(5.31,5.39),
 (5.23,5.30),(5.08,5.12),(5.08,5.37),(4.97,5.01),(5.03,5.08),(4.73,4.75),(4.77,4.80),(4.61,4.62),(4.47,4.47),
 (4.22,4.30),(4.22,4.36),(4.25,4.33),(4.25,4.40),(4.28,4.37),(4.28,4.43),(4.31,4.39),(4.31,4.46),
 (4.34,4.42),(4.34,4.49),(4.34,4.54),(4.37,4.45),(4.37,4.52),(4.37,4.58),(4.40,4.47),(4.40,4.54),(4.40,4.61),
 (4.43,4.50),(4.43,4.57),(4.43,4.63),(4.46,4.53),(4.46,4.60),(4.46,4.67),(4.49,4.56),(4.49,4.63),(4.49,4.70),
 (4.52,4.60),(4.52,4.67),(4.52,4.74),(4.55,4.63),(4.55,4.70),(4.55,4.77),(4.58,4.67),(4.58,4.74),(4.58,4.80),
 (4.61,4.70),(4.61,4.77),(4.61,4.84),(4.64,4.74),(4.64,4.81),(4.64,4.88),(4.67,4.78),(4.67,4.85),(4.67,4.92),
 (4.70,4.81),(4.70,4.88),(4.70,4.95),(4.73,4.85),(4.73,4.92),(4.73,4.98),(4.76,4.87),(4.76,4.95),(4.76,5.02),
 (4.79,4.91),(4.79,4.98),(4.79,5.05),(4.82,4.94),(4.82,5.01),(4.82,5.08),(4.85,4.96),(4.85,5.04),(4.85,5.11),
 (4.88,4.99),(4.88,5.07),(4.88,5.14),(4.91,5.03),(4.91,5.10),(4.91,5.17),(4.94,5.05),(4.94,5.13),(4.94,5.20),
 (4.97,5.09),(4.97,5.16),(4.97,5.23),(5.00,5.12),(5.00,5.19),(5.00,5.25),(5.03,5.14),(5.03,5.22),(5.03,5.28),
 (5.06,5.17),(5.06,5.25),(5.06,5.31),(5.09,5.21),(5.09,5.28),(5.09,5.35),(5.12,5.24),(5.12,5.31),(5.12,5.37),
 (5.15,5.27),(5.15,5.34),(5.15,5.39),(5.18,5.30),(5.18,5.37),(5.18,5.44),(5.21,5.34),(5.21,5.41),(5.21,5.47),
 (5.24,5.37),(5.24,5.44),(5.24,5.50),(5.27,5.42),(5.27,5.48),(5.27,5.54),(5.30,5.45),(5.30,5.52),(5.30,5.57),
 (5.33,5.47),(5.33,5.53),(5.36,5.50),(5.36,5.55),(5.39,5.54),(5.39,5.58),
 (4.30,4.34),(4.36,4.40),(4.42,4.45),(4.48,4.50),(4.54,4.58),(4.60,4.64),(4.66,4.70),(4.72,4.78),(4.78,4.84),(4.84,4.90),
 (4.90,4.96),(4.96,5.04),(5.02,5.10),(5.08,5.16),(5.14,5.22),(5.20,5.27),(5.26,5.36),(5.32,5.44),
]


def xs(points):
    return [p[0] for p in points]


def ys(points):
    return [p[1] for p in points]


fig = go.Figure()

# Drawing order follows the reference: the 1x1 line lies under every band.
fig.add_trace(go.Scatter(x=line_x, y=line_y, name=LINE_NAME, mode="lines+markers", legendrank=7,
                         line=dict(color="#008080", width=2),
                         marker=dict(symbol="cross-thin", size=8, line=dict(color="#008080", width=2)),
                         cliponaxis=False))
fig.add_trace(go.Scatter(x=xs(band28), y=ys(band28), name=BAND_NAMES[0], mode="markers", legendrank=1,
                         marker=dict(symbol="diamond", size=9.5, color="#000080"), cliponaxis=False))
fig.add_trace(go.Scatter(x=xs(band29), y=ys(band29), name=BAND_NAMES[1], mode="markers", legendrank=2,
                         marker=dict(symbol="square", size=10.5, color="#FF00FF"), cliponaxis=False))
fig.add_trace(go.Scatter(x=xs(band30), y=ys(band30), name=BAND_NAMES[2], mode="markers", legendrank=3,
                         marker=dict(symbol="triangle-up", size=13, color="#FFFF00"), cliponaxis=False))
fig.add_trace(go.Scatter(x=xs(band31), y=ys(band31), name=BAND_NAMES[3], mode="markers", legendrank=4,
                         marker=dict(symbol="x-thin", size=11, line=dict(color="#00FFFF", width=2)), cliponaxis=False))
# The six-armed star of band 32 is an x plus a vertical stroke.
fig.add_trace(go.Scatter(x=xs(band32), y=ys(band32), showlegend=False, mode="markers",
                         marker=dict(symbol="x-thin", size=11, line=dict(color="#800080", width=2.3)), cliponaxis=False))
fig.add_trace(go.Scatter(x=xs(band32), y=ys(band32), showlegend=False, mode="markers",
                         marker=dict(symbol="line-ns", size=8.5, line=dict(color="#800080", width=2.3)), cliponaxis=False))
fig.add_trace(go.Scatter(x=[None], y=[None], name=BAND_NAMES[4], mode="markers", legendrank=5,
                         marker=dict(symbol="asterisk", size=10, line=dict(color="#800080", width=1.5))))
fig.add_trace(go.Scatter(x=xs(band33), y=ys(band33), name=BAND_NAMES[5], mode="markers", legendrank=6,
                         marker=dict(symbol="circle", size=11, color="#800000"), cliponaxis=False))

axis_common = dict(range=[2, 9], tickmode="array", tickvals=AXIS_TICKS, tickformat=".1f",
                   ticks="outside", tickwidth=5, tickcolor="black", showline=True, linewidth=5,
                   linecolor="black", zeroline=False, layer="below traces", automargin=False,
                   ticklabeloverflow="allow",
                   tickfont=dict(family="Liberation Sans", size=29, color="black"))
fig.update_xaxes(**axis_common, ticklen=12, showgrid=False, ticklabelstandoff=12,
                 title=dict(text=f"<b>{X_TITLE}</b>", standoff=24,
                            font=dict(family="Liberation Sans", size=29.5, color="black")))
fig.update_yaxes(**axis_common, ticklen=10, showgrid=True, gridcolor="black", gridwidth=1.5, ticklabelstandoff=1,
                 title=dict(text=f"<b>{Y_TITLE}</b>", standoff=10,
                            font=dict(family="Liberation Sans", size=29.5, color="black")))

fig.update_layout(
    width=1915, height=947,
    margin=dict(l=123, r=27, t=17, b=105),
    paper_bgcolor="white", plot_bgcolor="#C0C0C0",
    showlegend=True,
    legend=dict(x=0.748, y=0.6235, xanchor="left", yanchor="top", bgcolor="rgba(0,0,0,0)",
                borderwidth=0, itemwidth=45,
                font=dict(family="Liberation Sans", size=32, color="black")),
    shapes=[
        dict(type="line", xref="x", yref="y", x0=2, x1=9, y0=9, y1=9, layer="below",
             line=dict(color="#808080", width=2)),
        dict(type="line", xref="x", yref="y", x0=9, x1=9, y0=2, y1=9, layer="below",
             line=dict(color="#808080", width=2)),
        dict(type="rect", xref="paper", yref="paper", x0=0.748, x1=0.9479, y0=0.2424, y1=0.6109, layer="above",
             fillcolor="white", line=dict(color="#666666", width=2)),
    ],
)

# The browser's default 8px body margin would clip the "9.0" label against the page edge.
fig.write_html("out.html", config={"displayModeBar": False},
               post_script="document.body.style.margin='0';document.documentElement.style.overflow='hidden';")
